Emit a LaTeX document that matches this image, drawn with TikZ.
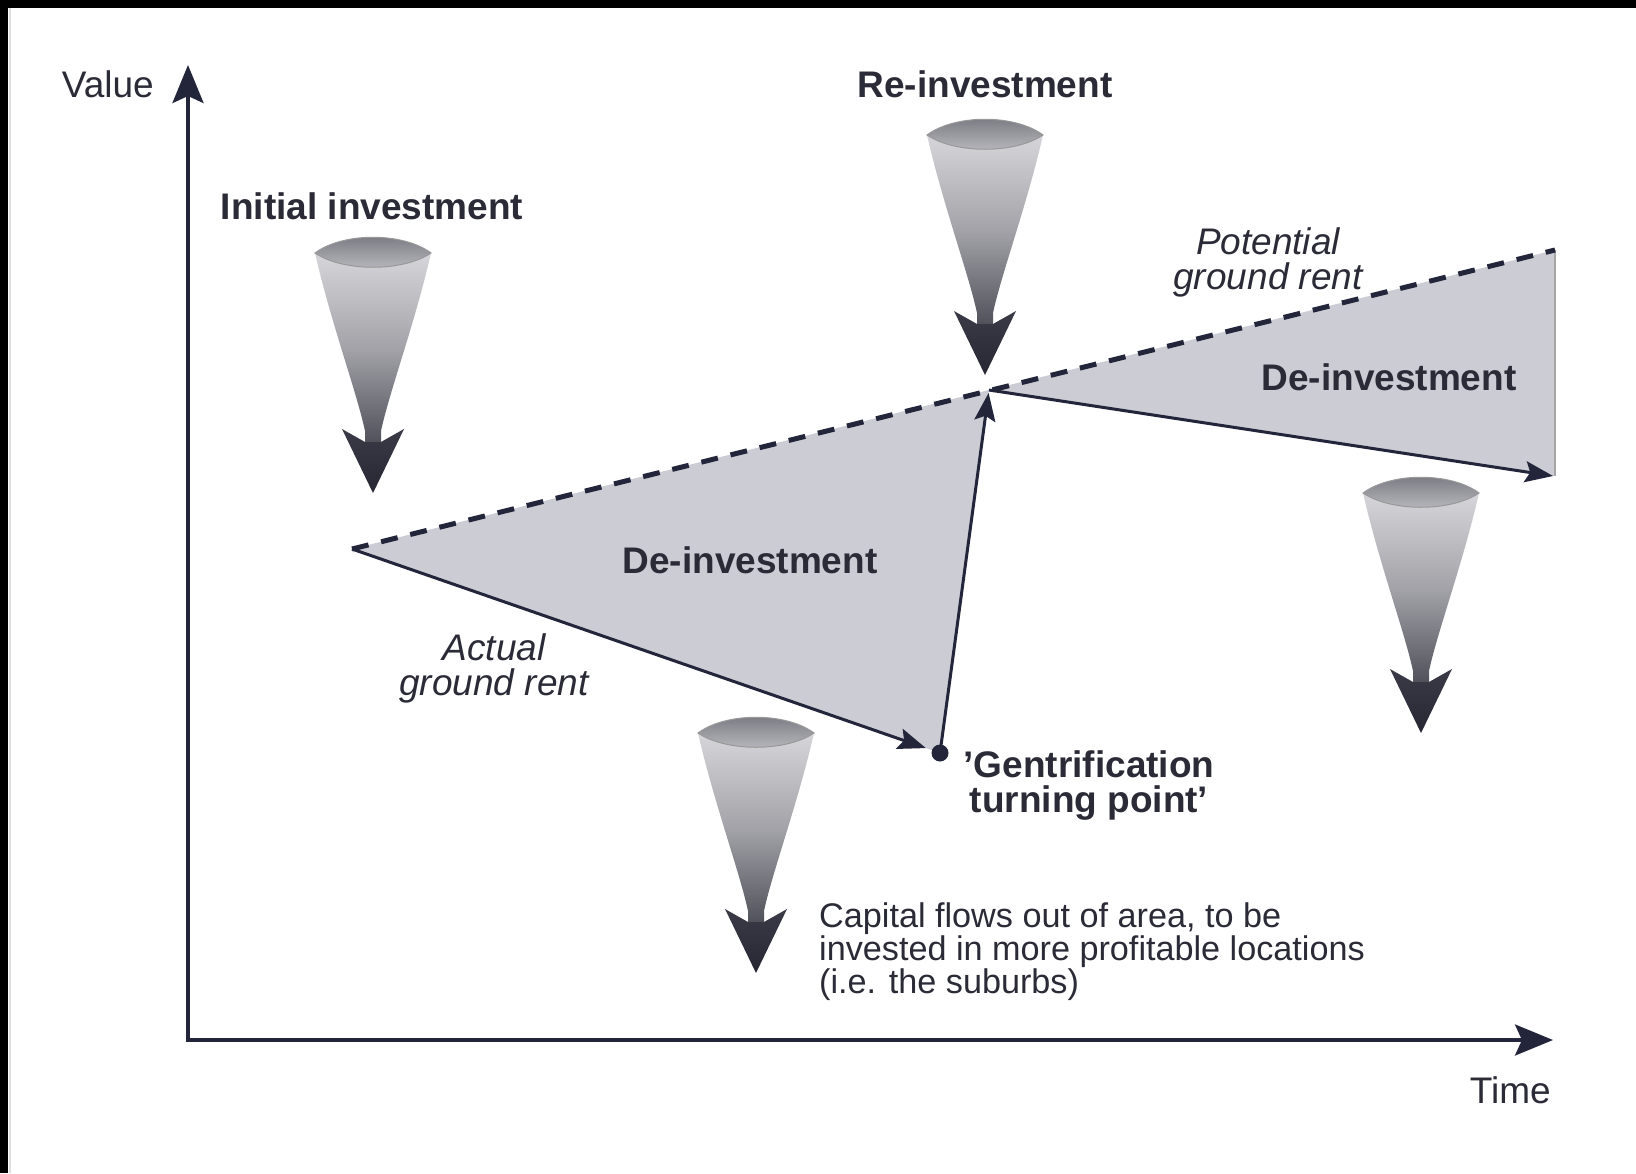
\documentclass[tikz,border=0pt]{standalone}
\usepackage{fontspec}
\setmainfont{Liberation Sans}
\usetikzlibrary{arrows.meta}

\definecolor{ink}{HTML}{23263A}
\definecolor{txt}{HTML}{2A2B36}
\definecolor{areafill}{HTML}{CBCCD4}
\definecolor{coneA}{HTML}{D6D6DA}
\definecolor{coneB}{HTML}{A2A2A8}
\definecolor{coneC}{HTML}{4E4F58}
\definecolor{headA}{HTML}{3A3B46}
\definecolor{headB}{HTML}{262733}
\definecolor{lensA}{HTML}{74747C}
\definecolor{lensB}{HTML}{BDBDC3}

% A funnel-shaped arrow pointing down; #1,#2 = centre of the rim
\newcommand\capitalarrow[2]{%
  \begin{scope}[shift={(#1,#2)}]
    \shade[top color=coneA, bottom color=coneC, middle color=coneB]
      (-58,0) .. controls (-42,70) and (-16,140) .. (-8,178)
      -- (-8,192) -- (8,192) -- (8,178)
      .. controls (16,140) and (42,70) .. (58,0) -- cycle;
    \shade[top color=headA, bottom color=headB]
      (-8,189) -- (-31,176) -- (0,240) -- (31,176) -- (8,189) -- cycle;
    \shadedraw[top color=lensA, bottom color=lensB, draw=gray!80, line width=1pt]
      (-58,0) .. controls (-30,-21) and (30,-21) .. (58,0)
      .. controls (30,19) and (-30,19) .. (-58,0) -- cycle;
  \end{scope}}

\begin{document}
\begin{tikzpicture}[x=1pt,y=-1pt,
  axis/.style={draw=ink, line width=3.5pt, line join=miter,
    {Stealth[length=38pt,width=31pt,inset=7pt]}-{Stealth[length=38pt,width=31pt,inset=7pt]}},
  rent/.style={draw=ink, line width=3pt,
    -{Stealth[length=28pt,width=21pt,inset=5pt]}},
  potential/.style={draw=ink, line width=5pt, dash pattern=on 17pt off 13pt},
  lbl/.style={inner sep=0pt, text=txt, font=\fontsize{37}{35}\selectfont},
  boldlbl/.style={lbl, font=\fontsize{37}{35}\selectfont\bfseries},
  itlbl/.style={lbl, font=\fontsize{37}{35}\selectfont\itshape},
  notelbl/.style={inner sep=0pt, text=txt, font=\fontsize{34.2}{33}\selectfont}
]
% page and frame
\useasboundingbox (0,0) rectangle (1636,1173);
\fill[white] (0,0) rectangle (1636,1173);
\fill[black] (0,0) rectangle (1636,8);
\fill[black] (0,0) rectangle (8,1173);
\draw[gray!25, line width=1.5pt] (10,8) -- (10,1173);

% key points
\coordinate (A) at (352,549);
\coordinate (G) at (940,753);
\coordinate (R) at (989,390);
\coordinate (P) at (1555,250);
\coordinate (E) at (1553,476);
\coordinate (O) at (188,1040);
\coordinate (ytip) at (188,65);
\coordinate (xtip) at (1553,1040);

% rent gap areas
\fill[areafill] (A) -- (R) -- (G) -- cycle;
\fill[areafill] (R) -- (P) -- (1555,476) -- (E) -- cycle;
\draw[gray!70, line width=1.2pt] (P) -- (1555,476);

% potential ground rent
\draw[potential] (A) -- (P);

% actual ground rent
\draw[rent, shorten >=15pt] (A) -- (G);
\draw[rent, shorten >=3pt] (G) -- (R);
\draw[rent] (R) -- (E);
\node[circle, fill=ink, inner sep=0pt, minimum size=17pt] (turn) at (G) {};

% capital flows
\capitalarrow{373}{253}
\capitalarrow{985}{135}
\capitalarrow{1421}{493}
\capitalarrow{756}{733}

% axes
\draw[axis] (ytip) -- (O) -- (xtip);

% labels (multi-line labels are anchored on the baseline of their last line)
\node[lbl, anchor=base east] (value) at (154,97) {Value};
\node[lbl, anchor=base east] (time) at (1551,1103) {Time};
\node[boldlbl, anchor=base] (reinv) at (985,97) {Re-investment};
\node[boldlbl, anchor=base] (initinv) at (372,219) {Initial investment};
\node[itlbl, anchor=base, align=center] (pot) at (1268,289) {Potential\\ground rent};
\node[itlbl, anchor=base, align=center] (act) at (494,695) {Actual\\ground rent};
\node[boldlbl, anchor=base] (deinvA) at (750,573) {De-investment};
\node[boldlbl, anchor=base] (deinvB) at (1389,390) {De-investment};
\node[boldlbl, anchor=base, align=center] (gent) at (1089,812) {'Gentrification\\turning point'};
\node[notelbl, anchor=base west, align=left] (flow) at (819,993)
  {Capital flows out of area, to be\\invested in more profitable locations\\(i.e. the suburbs)};
\end{tikzpicture}
\end{document}
